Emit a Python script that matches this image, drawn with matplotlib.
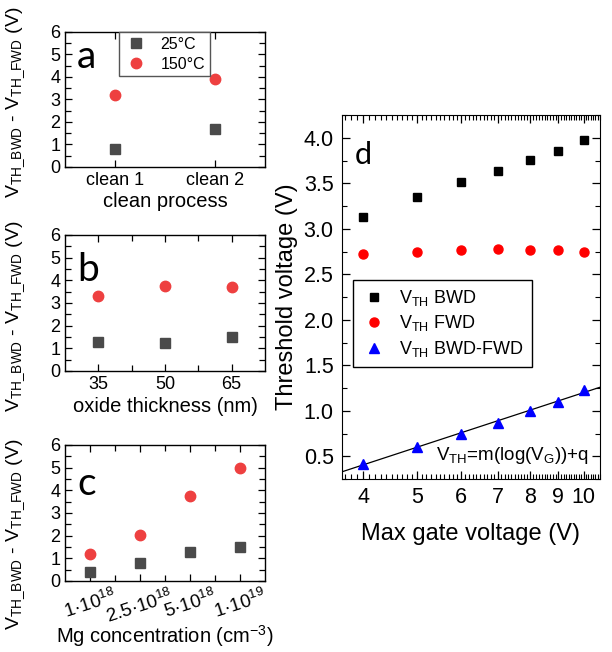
import matplotlib
matplotlib.use('Agg')
import matplotlib.pyplot as plt
from matplotlib.ticker import MultipleLocator, FixedLocator, NullFormatter, FormatStrFormatter
import numpy as np

plt.rcParams['font.family'] = ['Liberation Sans', 'DejaVu Sans']
plt.rcParams['mathtext.default'] = 'regular'

# panel a
clean_labels = ['clean 1', 'clean 2']
clean_25 = [0.8, 1.7]
clean_150 = [3.2, 3.9]

# panel b
oxide_nm = [35, 50, 65]
oxide_25 = [1.27, 1.22, 1.49]
oxide_150 = [3.32, 3.75, 3.71]

# panel c
mg_labels = ['1·10$^{18}$', '2.5·10$^{18}$', '5·10$^{18}$', '1·10$^{19}$']
mg_25 = [0.38, 0.81, 1.26, 1.5]
mg_150 = [1.18, 2.03, 3.76, 4.97]

# panel d
vg_max = [4, 5, 6, 7, 8, 9, 10]
vth_bwd = [3.13, 3.35, 3.51, 3.64, 3.76, 3.86, 3.97]
vth_fwd = [2.72, 2.75, 2.77, 2.78, 2.77, 2.77, 2.75]
vth_diff = [0.42, 0.605, 0.745, 0.87, 1.0, 1.10, 1.23]

gray = '#4a4a4a'
red = '#ee4040'
ylab = r'V$_{TH\_BWD}$ - V$_{TH\_FWD}$ (V)'

fig = plt.figure(figsize=(6.12, 6.52), dpi=100)
ax_a = fig.add_axes([0.1062, 0.7439, 0.3268, 0.2071])
ax_b = fig.add_axes([0.1062, 0.4310, 0.3268, 0.2086])
ax_c = fig.add_axes([0.1062, 0.1089, 0.3268, 0.2086])
ax_d = fig.add_axes([0.5588, 0.2653, 0.4216, 0.5583])


def style_small(ax):
    ax.set_ylim(0, 6)
    ax.yaxis.set_major_locator(MultipleLocator(1))
    ax.yaxis.set_minor_locator(MultipleLocator(0.5))
    ax.tick_params(which='both', direction='in', top=True, right=True, labelsize=13)
    ax.tick_params(which='major', length=5, width=0.9)
    ax.tick_params(which='minor', length=4, width=0.9)
    ax.set_ylabel(ylab, fontsize=14)
    for s in ax.spines.values():
        s.set_linewidth(1.0)


# a
xa = np.arange(1, len(clean_labels) + 1)
ax_a.plot(xa, clean_25, 's', color=gray, ms=6.5, label='25°C')
ax_a.plot(xa, clean_150, 'o', color=red, ms=7.5, label='150°C')
ax_a.set_xlim(0.5, 2.5)
ax_a.set_xticks(xa)
ax_a.set_xticklabels(clean_labels)
style_small(ax_a)
ax_a.set_xlabel('clean process', fontsize=14.5)
ax_a.yaxis.set_label_coords(-0.19, 0.48)
ax_a.xaxis.set_label_coords(0.5, -0.185)
leg = ax_a.legend(loc='upper left', bbox_to_anchor=(0.27, 1.0), borderaxespad=0,
                  fontsize=11.5, fancybox=False, edgecolor='#555555', framealpha=1,
                  handlelength=1.5, handletextpad=0.8, borderpad=0.3, labelspacing=0.3)
leg.get_frame().set_linewidth(1.0)
ax_a.text(0.06, 0.73, 'a', transform=ax_a.transAxes, fontsize=28, family='Lato')

# b
ax_b.plot(oxide_nm, oxide_25, 's', color=gray, ms=6.5)
ax_b.plot(oxide_nm, oxide_150, 'o', color=red, ms=7.5)
ax_b.set_xlim(27.5, 72.5)
ax_b.set_xticks(oxide_nm)
ax_b.xaxis.set_minor_locator(FixedLocator([42.5, 57.5]))
style_small(ax_b)
ax_b.set_xlabel('oxide thickness (nm)', fontsize=14.5)
ax_b.yaxis.set_label_coords(-0.19, 0.40)
ax_b.xaxis.set_label_coords(0.5, -0.19)
ax_b.text(0.06, 0.66, 'b', transform=ax_b.transAxes, fontsize=28, family='Lato')

# c
xc = np.arange(1, len(mg_labels) + 1)
ax_c.plot(xc, mg_25, 's', color=gray, ms=6.5)
ax_c.plot(xc, mg_150, 'o', color=red, ms=7.5)
ax_c.set_xlim(0.5, 4.5)
ax_c.set_xticks(xc)
ax_c.set_xticklabels(mg_labels, rotation=18, fontsize=13.5)
ax_c.xaxis.set_minor_locator(FixedLocator([1.5, 2.5, 3.5]))
style_small(ax_c)
ax_c.tick_params(axis='x', labelsize=13.5)
ax_c.set_xlabel(r'Mg concentration (cm$^{-3}$)', fontsize=14.5)
ax_c.yaxis.set_label_coords(-0.19, 0.34)
ax_c.xaxis.set_label_coords(0.5, -0.31)
ax_c.text(0.06, 0.63, 'c', transform=ax_c.transAxes, fontsize=28, family='Lato')

# d
ax_d.plot(vg_max, vth_bwd, 's', color='black', ms=5.5, label=r'V$_{TH}$ BWD')
ax_d.plot(vg_max, vth_fwd, 'o', color='#ff0000', ms=6.5, label=r'V$_{TH}$ FWD')
ax_d.plot(vg_max, vth_diff, '^', color='#0000ff', ms=7.5, label=r'V$_{TH}$ BWD-FWD')
m, q = np.polyfit(np.log10(vg_max), vth_diff, 1)
xf = np.array([3.66, 10.7])
ax_d.plot(xf, m * np.log10(xf) + q, color='black', lw=0.9, zorder=1)
ax_d.set_xscale('log')
ax_d.set_xlim(3.66, 10.7)
ax_d.set_ylim(0.25, 4.25)
ax_d.xaxis.set_major_locator(FixedLocator(vg_max))
ax_d.xaxis.set_major_formatter(FormatStrFormatter('%d'))
minor = [v for v in np.round(np.arange(3.7, 10.75, 0.1), 1) if abs(v - round(v)) > 1e-6]
ax_d.xaxis.set_minor_locator(FixedLocator(minor))
ax_d.xaxis.set_minor_formatter(NullFormatter())
ax_d.yaxis.set_major_locator(MultipleLocator(0.5))
ax_d.yaxis.set_minor_locator(MultipleLocator(0.25))
ax_d.yaxis.set_major_formatter(FormatStrFormatter('%.1f'))
ax_d.tick_params(which='both', direction='in', top=True, right=True, labelsize=15.5)
ax_d.tick_params(which='major', length=6, width=0.9, pad=6)
ax_d.tick_params(which='minor', length=3.5, width=0.8)
ax_d.set_xlabel('Max gate voltage (V)', fontsize=17)
ax_d.set_ylabel('Threshold voltage (V)', fontsize=17)
ax_d.xaxis.set_label_coords(0.5, -0.12)
ax_d.yaxis.set_label_coords(-0.17, 0.5)
legd = ax_d.legend(loc='upper left', bbox_to_anchor=(0.043, 0.547), borderaxespad=0,
                   fontsize=13, fancybox=False, edgecolor='black', framealpha=1,
                   handlelength=1.4, handletextpad=0.7, borderpad=0.45, labelspacing=0.3)
legd.get_frame().set_linewidth(1.0)
ax_d.text(0.955, 0.065, r'V$_{TH}$=m(log(V$_G$))+q', transform=ax_d.transAxes,
          fontsize=13.5, ha='right', va='center')
ax_d.text(0.05, 0.865, 'd', transform=ax_d.transAxes, fontsize=22, family='Lato')

fig.savefig('out.png', dpi=100)
